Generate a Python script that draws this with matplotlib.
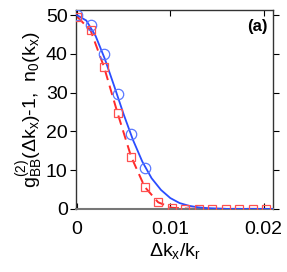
import numpy as np
import matplotlib
matplotlib.use("Agg")
import matplotlib.pyplot as plt

# data
line_x = [0, 0.001, 0.002, 0.003, 0.004, 0.005, 0.006, 0.007, 0.008, 0.009,
          0.010, 0.011, 0.012, 0.013, 0.014, 0.015, 0.016, 0.018, 0.021]
line_g2 = [50, 48.6, 44.6, 38.6, 31.6, 24.4, 17.8, 12.2, 7.9, 4.9,
           2.8, 1.5, 0.8, 0.4, 0.2, 0.1, 0.0, 0.0, 0.0]

circ_x = [0, 0.00146, 0.00292, 0.00438, 0.00584, 0.0073]
circ_g2 = [50, 47.4, 39.9, 29.6, 19.2, 10.6]

sq_x = [0, 0.00145, 0.0029, 0.00435, 0.0058, 0.00725, 0.0087, 0.01015,
        0.0116, 0.01305, 0.0145, 0.01595, 0.0174, 0.01885, 0.0203]
sq_n0 = [49.6, 46.1, 36.6, 24.7, 13.5, 5.7, 1.7, 0.3, 0.1, 0, 0, 0, 0, 0, 0]

plt.rcParams['font.family'] = ['Liberation Sans', 'DejaVu Sans']
plt.rcParams['font.size'] = 14
plt.rcParams['mathtext.fontset'] = 'custom'
plt.rcParams['mathtext.rm'] = 'Liberation Sans'
plt.rcParams['mathtext.it'] = 'Liberation Sans'

blue = '#2a4dff'
red = '#ff2a2a'

fig = plt.figure(figsize=(2.87, 2.72), dpi=100)
ax = fig.add_axes([0.265, 0.232, 0.686, 0.731])

ax.plot(line_x, line_g2, color=blue, lw=1.3, zorder=3)
ax.plot(circ_x, circ_g2, 'o', mfc='none', mec='#5a78ff', ms=7.5, mew=0.9,
        zorder=4)
ax.plot(sq_x, sq_n0, '--', color=red, lw=1.4, dashes=(5, 3), zorder=2)
ax.plot(sq_x, sq_n0, 's', mfc='none', mec='#ff5050', ms=5.8, mew=0.9,
        zorder=4)

ax.set_xlim(-0.0001, 0.0210)
ax.set_ylim(0, 51.3)
ax.set_xticks([0, 0.01, 0.02])
ax.set_xticklabels(['0', '0.01', '0.02'])
ax.set_yticks([0, 10, 20, 30, 40, 50])

ax.tick_params(axis='x', direction='in', top=True, length=4, pad=9)
ax.tick_params(axis='y', direction='out', right=True, length=4, pad=2)
for s in ax.spines.values():
    s.set_color('#333333')
    s.set_linewidth(1.0)
ax.spines['bottom'].set_color('#777777')
ax.spines['bottom'].set_linewidth(1.5)

ax.set_xlabel(r'$\Delta$k$_{\rm x}$/k$_{\rm r}$', labelpad=2)
ax.set_ylabel(r'g$^{(2)}_{\rm BB}$($\Delta$k$_{\rm x}$)-1,  n$_0$(k$_{\rm x}$)',
              labelpad=0)
ax.text(0.975, 0.915, '(a)', transform=ax.transAxes, ha='right', va='center',
        fontweight='bold', fontsize=12)

fig.savefig('out.png', dpi=100)
